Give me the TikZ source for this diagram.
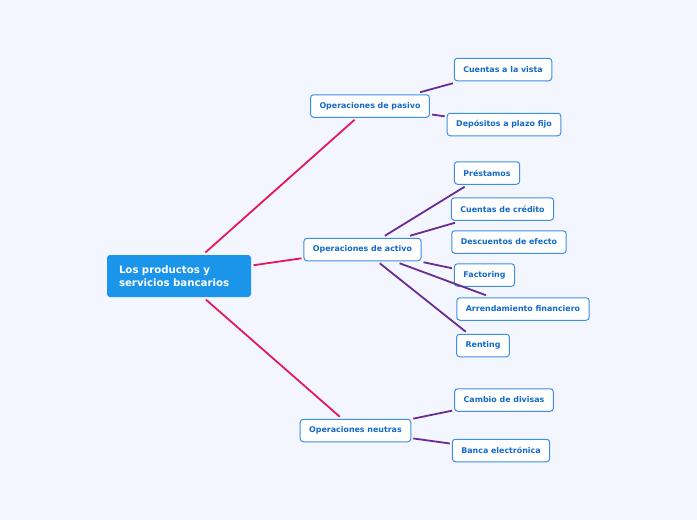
\documentclass[tikz,border=0pt]{standalone}
\usepackage{fontspec}
\setmainfont{DejaVu Sans}
\usepackage{tikz}
\usetikzlibrary{calc}

\definecolor{fondo}{HTML}{F3F6FE}
\definecolor{raiz}{HTML}{1B95E9}
\definecolor{borde}{HTML}{3D8FE6}
\definecolor{texto}{HTML}{1469C9}
\definecolor{rosa}{HTML}{E5175F}
\definecolor{morado}{HTML}{6A2C91}

\tikzset{
	tema/.style={draw=borde, fill=white, rounded corners=3pt, line width=1pt, text=texto, font=\fontsize{7.9}{9}\selectfont\bfseries, inner xsep=9pt, minimum height=22.5pt, outer sep=2.5pt},
	raizbox/.style={fill=raiz, rounded corners=3pt, text=white, font=\fontsize{10.2}{13}\selectfont\bfseries, align=left, text width=120pt, inner xsep=12pt, minimum height=42pt, outer sep=2.5pt},
	rama/.style={draw=rosa, line width=1.8pt},
	hoja/.style={draw=morado, line width=1.8pt}
}

\begin{document}
\begin{tikzpicture}[x=1pt,y=-1pt]
						\fill[fondo] (0,0) rectangle (697,520);
						\useasboundingbox (0,0) rectangle (697,520);

						\node[raizbox] (raiz) at (179,276) {Los productos y\\servicios bancarios};

						\node[tema] (pasivo) at (370,106) {Operaciones de pasivo};
						\node[tema] (activo) at (362.5,249.5) {Operaciones de activo};
						\node[tema] (neutras) at (355.5,430.5) {Operaciones neutras};

						\node[tema] (vista) at (503,69.5) {Cuentas a la vista};
						\node[tema] (plazo) at (504,124.5) {Depósitos a plazo fijo};

						\node[tema] (prestamos) at (487,173) {Préstamos};
						\node[tema] (credito) at (502.5,209) {Cuentas de crédito};
						\node[tema] (efecto) at (509,242) {Descuentos de efecto};
						\node[tema] (factoring) at (484.5,275) {Factoring};
						\node[tema] (arrenda) at (523,309) {Arrendamiento financiero};
						\node[tema] (renting) at (483,345.5) {Renting};

						\node[tema] (divisas) at (504,400) {Cambio de divisas};
						\node[tema] (banca) at (501,450.5) {Banca electrónica};

						\draw[rama] (raiz) -- (pasivo);
						\draw[rama] (raiz) -- (activo);
						\draw[rama] (raiz) -- (neutras);

						\draw[hoja] (pasivo) -- (vista);
						\draw[hoja] (pasivo) -- (plazo);

						\draw[hoja] (activo) -- (prestamos);
						\draw[hoja] (activo) -- (credito);
						\draw[hoja] (activo) -- (factoring);
						\draw[hoja] (activo) -- (arrenda);
						\draw[hoja] (activo) -- (renting);

						\draw[hoja] (neutras) -- (divisas);
						\draw[hoja] (neutras) -- (banca);
					\end{tikzpicture}
\end{document}
